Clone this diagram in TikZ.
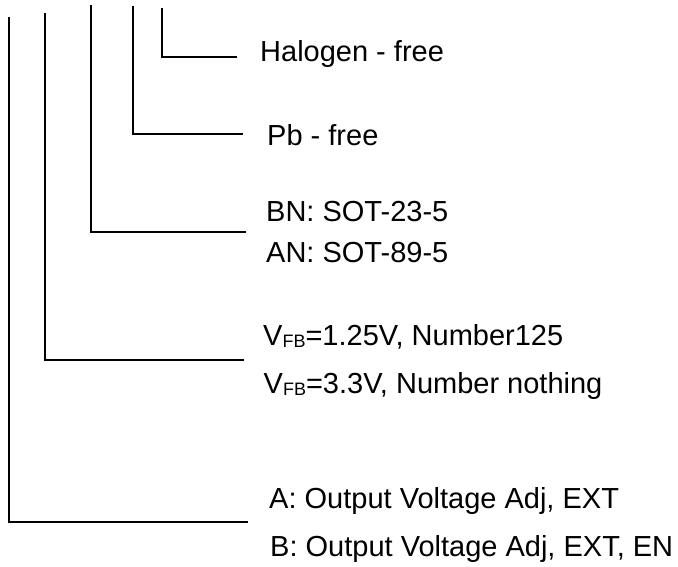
\documentclass[tikz,border=0pt]{standalone}
\usepackage{fontspec}
\setmainfont{Liberation Sans}
\newcommand{\vfbsub}{\raisebox{-2.5pt}{\fontsize{18}{18}\selectfont FB}}
\begin{document}
\begin{tikzpicture}[x=1pt,y=-1pt,
  lbl/.style={anchor=base west, inner sep=0pt, font=\fontsize{29}{34}\selectfont},
  wire/.style={draw=black, line width=2pt, line cap=butt, line join=miter}]
\useasboundingbox (0,0) rectangle (678,567);
% corner points and free ends
\coordinate (t1) at (9,17);   \coordinate (c1) at (9,522);   \coordinate (e1) at (248,522);
\coordinate (t2) at (44.5,13); \coordinate (c2) at (44.5,360); \coordinate (e2) at (244,360);
\coordinate (t3) at (91,5);   \coordinate (c3) at (91,232);  \coordinate (e3) at (246,232);
\coordinate (t4) at (133,6);  \coordinate (c4) at (133,134); \coordinate (e4) at (243,134);
\coordinate (t5) at (161.5,8); \coordinate (c5) at (161.5,57); \coordinate (e5) at (237,57);
\draw[wire] (t1) -- (c1) -- (e1);
\draw[wire] (t2) -- (c2) -- (e2);
\draw[wire] (t3) -- (c3) -- (e3);
\draw[wire] (t4) -- (c4) -- (e4);
\draw[wire] (t5) -- (c5) -- (e5);
% labels
\node[lbl] (halo) at (260,62) {Halogen - free};
\node[lbl] (pb) at (267,146) {Pb - free};
\node[lbl] (bn) at (266,222) {BN: SOT-23-5};
\node[lbl] (an) at (266,262.5) {AN: SOT-89-5};
\node[lbl] (v1) at (263,345) {V\vfbsub=1.25V, Number125};
\node[lbl] (v2) at (263.5,393) {V\vfbsub=3.3V, Number nothing};
\node[lbl] (a) at (269,508) {A: Output Voltage Adj, EXT};
\node[lbl] (b) at (270,556) {B: Output Voltage Adj, EXT, EN};
\end{tikzpicture}
\end{document}
